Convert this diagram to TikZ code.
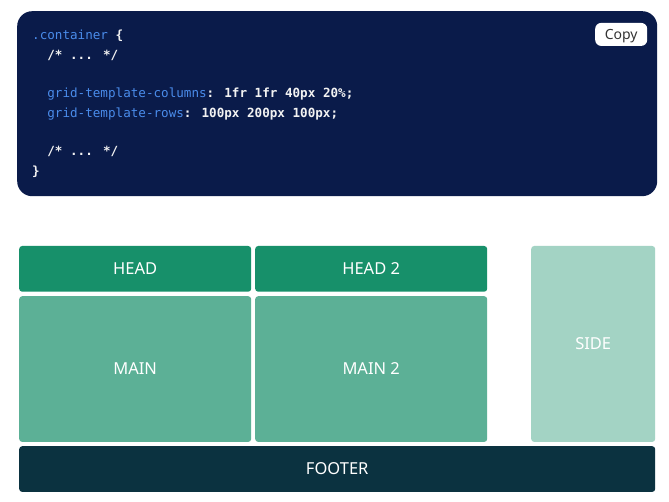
\documentclass[tikz,border=0pt]{standalone}
\usepackage{fontspec}
\setmainfont{Noto Sans}
\newfontfamily\codefont{DejaVu Sans Mono}
\definecolor{codebg}{HTML}{0A1B4A}
\definecolor{codeblue}{HTML}{4A8CEB}
\definecolor{codewhite}{HTML}{F2F2F2}
\definecolor{headc}{HTML}{17906A}
\definecolor{mainc}{HTML}{5CB096}
\definecolor{sidec}{HTML}{A3D3C4}
\definecolor{footc}{HTML}{0B3240}
\definecolor{copytext}{HTML}{333333}
\newcommand{\blu}[1]{\textcolor{codeblue}{\mdseries #1}}
\tikzset{
  codebox/.style={anchor=north west, fill=codebg, rounded corners=15pt, inner sep=0pt, minimum width=640pt, minimum height=185pt},
  copybtn/.style={anchor=north west, fill=white, rounded corners=6pt, inner sep=0pt, minimum width=52pt, minimum height=23pt, text=copytext, text height=10pt, text depth=0pt, font=\fontsize{14}{16}\selectfont},
  codeline/.style={anchor=base west, inner sep=0pt, text=codewhite, font=\codefont\bfseries\fontsize{12.6}{15}\selectfont},
  cell/.style={anchor=north west, inner sep=0pt, rounded corners=3pt, text=white, text height=11.8pt, text depth=0pt, font=\fontsize{16.5}{19}\selectfont},
  rowA/.style={minimum height=45.7pt},
  rowB/.style={minimum height=145.7pt},
  colw/.style={minimum width=232pt}
}
\begin{document}
\begin{tikzpicture}[x=1pt,y=-1pt]
\useasboundingbox (0,0) rectangle (669,502);
\fill[white] (0,0) rectangle (669,502);
% code block
\node[codebox] (code) at (17,11) {};
\node[copybtn] (copy) at (595,22.7) {Copy};
\node[codeline] (l1) at (32,40) {\blu{.container} \{};
\node[codeline] (l2) at (47.2,59.3) {/* ... */};
\node[codeline] (l4) at (47.2,97.9) {\blu{grid-template-columns}: 1fr 1fr 40px 20\%;};
\node[codeline] (l5) at (47.2,117.2) {\blu{grid-template-rows}: 100px 200px 100px;};
\node[codeline] (l7) at (47.2,155.8) {/* ... */};
\node[codeline] (l8) at (32,175.1) {\}};
% grid
\node[cell, rowA, colw, fill=headc] (head) at (19,245.8) {HEAD};
\node[cell, rowA, colw, fill=headc] (head2) at (255,245.8) {HEAD 2};
\node[cell, rowB, colw, fill=mainc] (main) at (19,296) {MAIN};
\node[cell, rowB, colw, fill=mainc] (main2) at (255,296) {MAIN 2};
\node[cell, minimum width=124pt, minimum height=195.9pt, fill=sidec] (side) at (531,245.8) {SIDE};
\node[cell, minimum width=636pt, minimum height=45.7pt, fill=footc] (footer) at (19,446) {FOOTER};
\end{tikzpicture}
\end{document}
